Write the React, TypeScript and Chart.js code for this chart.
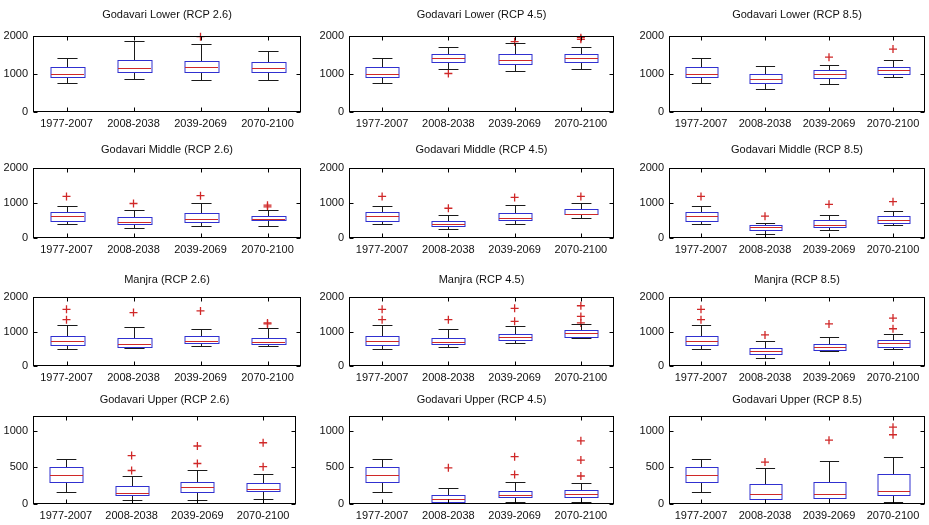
import React, { useEffect, useRef } from 'react';
import { Chart, registerables } from 'chart.js';

Chart.register(...registerables);

const periods = ['1977-2007', '2008-2038', '2039-2069', '2070-2100'];

// each box: [lower whisker, Q1, median, Q3, upper whisker]
const godavariLower26 = [[767, 925, 1013, 1189, 1410], [863, 1040, 1163, 1366, 1868], [837, 1040, 1189, 1339, 1780], [837, 1040, 1163, 1322, 1612]];
const godavariLower26Out = [[], [], [1982], []];
const godavariLower45 = [[767, 925, 1013, 1189, 1410], [1128, 1322, 1427, 1515, 1718], [1075, 1251, 1366, 1515, 1824], [1119, 1322, 1410, 1515, 1718]];
const godavariLower45Out = [[], [1013], [1850], [1912, 1956]];
const godavariLower85 = [[767, 925, 1013, 1189, 1410], [601, 755, 867, 1013, 1202], [738, 884, 996, 1099, 1227], [927, 1013, 1099, 1185, 1373]];
const godavariLower85Out = [[], [], [1442], [1657]];

const godavariMiddle26 = [[406, 483, 628, 754, 918], [290, 386, 454, 599, 802], [357, 464, 531, 705, 995], [357, 502, 531, 628, 792]];
const godavariMiddle26Out = [[1188], [986], [1208], [889, 937]];
const godavariMiddle45 = [[406, 483, 628, 754, 918], [271, 357, 406, 483, 647], [406, 502, 560, 725, 937], [560, 676, 696, 821, 986]];
const godavariMiddle45Out = [[1188], [850], [1159], [1188]];
const godavariMiddle85 = [[406, 483, 628, 754, 918], [125, 240, 317, 365, 442], [221, 317, 385, 510, 654], [365, 433, 510, 625, 779]];
const godavariMiddle85Out = [[1188], [625], [962], [1038]];

const manjra26 = [[479, 610, 732, 873, 1202], [516, 563, 638, 808, 1127], [592, 657, 732, 873, 1080], [592, 638, 704, 826, 1108]];
const manjra26Out = [[1343, 1643], [1549], [1596], [1220, 1249]];
const manjra45 = [[479, 610, 732, 873, 1202], [563, 638, 704, 798, 1080], [667, 751, 854, 920, 1155], [798, 854, 948, 1033, 1221]];
const manjra45Out = [[1343, 1643], [1343], [1296, 1671], [1249, 1437, 1746]];
const manjra85 = [[479, 610, 732, 873, 1202], [244, 357, 423, 526, 714], [423, 451, 545, 638, 854], [479, 545, 657, 751, 920]];
const manjra85Out = [[1343, 1643], [901], [1221], [1080, 1390]];

const godavariUpper26 = [[165, 304, 400, 509, 617], [52, 117, 152, 239, 378], [52, 165, 226, 296, 457], [65, 174, 204, 283, 413]];
const godavariUpper26Out = [[], [457, 661], [552, 791], [509, 835]];
const godavariUpper45 = [[165, 304, 400, 509, 617], [10, 23, 69, 124, 221], [32, 92, 124, 184, 300], [23, 92, 138, 194, 290]];
const godavariUpper45Out = [[], [493], [401, 645], [382, 599, 862]];
const godavariUpper85 = [[165, 304, 400, 509, 617], [9, 70, 130, 270, 488], [9, 84, 140, 302, 591], [23, 116, 172, 405, 647]];
const godavariUpper85Out = [[], [572], [870], [944, 1047]];

const yMaxUpper = 1200;
const yMaxOther = 2000;
const yTicksUpper = [0, 500, 1000];
const yTicksOther = [0, 1000, 2000];

const FONT = '"Liberation Sans", Arial, sans-serif';
const BLUE = '#3030d0';
const RED = '#d02828';

const boxPlugin = {
  id: 'boxExtras',
  afterDatasetsDraw(chart: any, _args: any, opts: any) {
    const { ctx } = chart;
    const ys = chart.scales.y;
    const meta = chart.getDatasetMeta(0);
    const stats: number[][] = opts.stats;
    ctx.save();
    ctx.lineWidth = 1;
    stats.forEach((s, i) => {
      const bar = meta.data[i];
      if (!bar) return;
      const x = Math.round(bar.x) + 0.5;
      const hw = bar.width / 2;
      const cap = hw * 0.6;
      const py = (v: number) => Math.round(ys.getPixelForValue(v)) + 0.5;
      ctx.strokeStyle = '#1a1a1a';
      ctx.beginPath();
      ctx.moveTo(x, py(s[3]));
      ctx.lineTo(x, py(s[4]));
      ctx.moveTo(x, py(s[1]));
      ctx.lineTo(x, py(s[0]));
      ctx.moveTo(x - cap, py(s[4]));
      ctx.lineTo(x + cap, py(s[4]));
      ctx.moveTo(x - cap, py(s[0]));
      ctx.lineTo(x + cap, py(s[0]));
      ctx.stroke();
      ctx.strokeStyle = BLUE;
      ctx.strokeRect(Math.round(x - hw), py(s[3]), Math.round(hw * 2), py(s[1]) - py(s[3]));
      ctx.strokeStyle = RED;
      ctx.beginPath();
      ctx.moveTo(Math.round(x - hw), py(s[2]));
      ctx.lineTo(Math.round(x + hw), py(s[2]));
      ctx.stroke();
    });
    ctx.restore();
  },
};

const framePlugin = {
  id: 'matFrame',
  afterDraw(chart: any, _args: any, opts: any) {
    const { ctx, chartArea: a, scales } = chart;
    ctx.save();
    ctx.strokeStyle = '#000';
    ctx.lineWidth = 1;
    const l = Math.round(a.left) + 0.5;
    const t = Math.round(a.top) + 0.5;
    const r = Math.round(a.right) - 0.5;
    const b = Math.round(a.bottom) - 0.5;
    ctx.strokeRect(l, t, r - l, b - t);
    const tl = 4;
    ctx.beginPath();
    scales.x.ticks.forEach((_t: any, i: number) => {
      const x = Math.round(scales.x.getPixelForTick(i)) + 0.5;
      ctx.moveTo(x, b);
      ctx.lineTo(x, b - tl);
      ctx.moveTo(x, t);
      ctx.lineTo(x, t + tl);
    });
    scales.y.ticks.forEach((_t: any, i: number) => {
      const y = Math.round(scales.y.getPixelForTick(i)) + 0.5;
      ctx.moveTo(l, y);
      ctx.lineTo(l + tl, y);
      ctx.moveTo(r, y);
      ctx.lineTo(r - tl, y);
    });
    ctx.stroke();
    ctx.fillStyle = '#111';
    ctx.font = '11px ' + FONT;
    ctx.textAlign = 'center';
    ctx.textBaseline = 'middle';
    ctx.fillText(opts.title, (a.left + a.right) / 2, a.top - opts.gap);
    ctx.restore();
  },
};

type PanelSpec = {
  title: string;
  stats: number[][];
  outliers: number[][];
  yMax: number;
  yTicks: number[];
  L: number;
  T: number;
  R: number;
  B: number;
  gap: number;
};

const YW = 40;
const XH = 22;
const PT = 30;
const PR = 8;

function Panel({ spec }: { spec: PanelSpec }) {
  const ref = useRef<HTMLCanvasElement | null>(null);
  const w = spec.R - spec.L + YW + PR;
  const h = spec.B - spec.T + PT + XH;
  useEffect(() => {
    if (!ref.current) return;
    const outPts: { x: string; y: number }[] = [];
    spec.outliers.forEach((arr, i) => arr.forEach((v) => outPts.push({ x: periods[i], y: v })));
    const chart = new Chart(ref.current, {
      type: 'bar',
      data: {
        labels: periods,
        datasets: [
          {
            type: 'bar',
            data: spec.stats.map((s) => [s[1], s[3]]) as any,
            backgroundColor: 'rgba(0,0,0,0)',
            borderColor: 'rgba(0,0,0,0)',
            borderWidth: 0,
            barPercentage: 0.5,
            categoryPercentage: 1,
          } as any,
          {
            type: 'scatter',
            data: outPts as any,
            pointStyle: 'cross',
            pointRadius: 4,
            borderColor: RED,
            backgroundColor: RED,
            borderWidth: 1.3,
            clip: false,
            showLine: false,
          } as any,
        ],
      },
      options: {
        animation: false,
        responsive: false,
        maintainAspectRatio: false,
        devicePixelRatio: 1,
        events: [],
        layout: { padding: { top: PT, right: PR, left: 0, bottom: 0 } },
        plugins: {
          legend: { display: false },
          tooltip: { enabled: false },
          title: { display: false },
          boxExtras: { stats: spec.stats },
          matFrame: { title: spec.title, gap: spec.gap },
        } as any,
        scales: {
          x: {
            type: 'category',
            offset: true,
            grid: { display: false, drawTicks: false },
            border: { display: false },
            ticks: {
              color: '#111',
              font: { family: FONT, size: 11 },
              padding: 5,
              autoSkip: false,
              maxRotation: 0,
            },
            afterFit: (s: any) => {
              s.height = XH;
            },
          },
          y: {
            min: 0,
            max: spec.yMax,
            grid: { display: false, drawTicks: false },
            border: { display: false },
            ticks: {
              color: '#111',
              font: { family: FONT, size: 11 },
              padding: 5,
              callback: (v: any) => String(v),
            },
            afterBuildTicks: (s: any) => {
              s.ticks = spec.yTicks.map((v) => ({ value: v }));
            },
            afterFit: (s: any) => {
              s.width = YW;
            },
          },
        } as any,
      },
      plugins: [boxPlugin, framePlugin],
    });
    return () => chart.destroy();
  }, [spec]);
  return (
    <canvas
      ref={ref}
      width={w}
      height={h}
      style={{ position: 'absolute', left: spec.L - YW, top: spec.T - PT, width: w, height: h }}
    />
  );
}

const cols = [
  { L: 33, R: 301 },
  { L: 349, R: 614 },
  { L: 669, R: 925 },
];
const rows = [
  { T: 36, B: 112, gap: 21 },
  { T: 168, B: 238, gap: 18 },
  { T: 297, B: 366, gap: 17 },
  { T: 416, B: 504, gap: 16 },
];

const panelDefs = [
  ['Godavari Lower (RCP 2.6)', godavariLower26, godavariLower26Out],
  ['Godavari Lower (RCP 4.5)', godavariLower45, godavariLower45Out],
  ['Godavari Lower (RCP 8.5)', godavariLower85, godavariLower85Out],
  ['Godavari Middle (RCP 2.6)', godavariMiddle26, godavariMiddle26Out],
  ['Godavari Middle (RCP 4.5)', godavariMiddle45, godavariMiddle45Out],
  ['Godavari Middle (RCP 8.5)', godavariMiddle85, godavariMiddle85Out],
  ['Manjra (RCP 2.6)', manjra26, manjra26Out],
  ['Manjra (RCP 4.5)', manjra45, manjra45Out],
  ['Manjra (RCP 8.5)', manjra85, manjra85Out],
  ['Godavari Upper (RCP 2.6)', godavariUpper26, godavariUpper26Out],
  ['Godavari Upper (RCP 4.5)', godavariUpper45, godavariUpper45Out],
  ['Godavari Upper (RCP 8.5)', godavariUpper85, godavariUpper85Out],
] as [string, number[][], number[][]][];

const specs: PanelSpec[] = panelDefs.map(([title, stats, outliers], idx) => {
  const r = Math.floor(idx / 3);
  const c = idx % 3;
  const upper = r === 3;
  const colR = r === 3 && c === 0 ? 296 : cols[c].R;
  return {
    title,
    stats,
    outliers,
    yMax: upper ? yMaxUpper : yMaxOther,
    yTicks: upper ? yTicksUpper : yTicksOther,
    L: cols[c].L,
    R: colR,
    T: rows[r].T,
    B: rows[r].B,
    gap: rows[r].gap,
  };
});

export default function App() {
  return (
    <div style={{ position: 'absolute', left: 0, top: 0, width: 929, height: 525, background: '#fff' }}>
      {specs.map((s, i) => (
        <Panel key={i} spec={s} />
      ))}
    </div>
  );
}
